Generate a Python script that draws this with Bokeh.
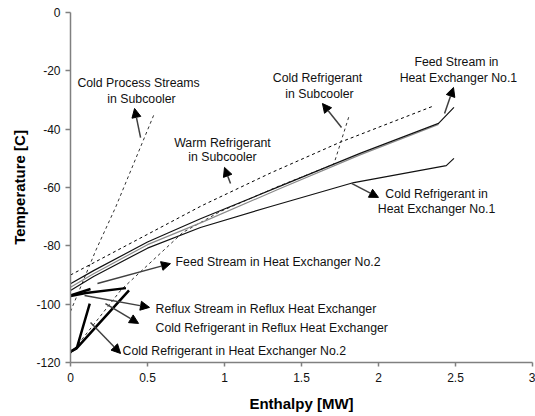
from bokeh.plotting import figure
from bokeh.models import Range1d, FixedTicker, Arrow, NormalHead, ColumnDataSource
from bokeh.core.properties import value
from bokeh.embed import file_html
from bokeh.resources import INLINE

# ---------------- data ----------------
x_ticks = [0, 0.5, 1, 1.5, 2, 2.5, 3]
x_tick_labels = ["0", "0.5", "1", "1.5", "2", "2.5", "3"]
y_ticks = [-120, -100, -80, -60, -40, -20, 0]
y_tick_labels = ["-120", "-100", "-80", "-60", "-40", "-20", "0"]

feed_hx1_h = [0, 0.15, 0.5, 0.844, 1.35, 1.88, 2.39, 2.49]
feed_hx1_t = [-93.0, -88.5, -78.7, -70.7, -59.8, -48.3, -38.0, -32.5]

hot_gray_h = [0, 0.15, 0.5, 0.86, 1.35, 1.88, 2.39]
hot_gray_t = [-94.2, -89.6, -79.6, -71.8, -60.6, -48.8, -38.4]

cold_hx1_h = [0, 0.15, 0.5, 0.844, 1.3, 1.84, 2.44, 2.49]
cold_hx1_t = [-95.3, -90.5, -80.8, -73.7, -66.5, -58.3, -52.5, -50.0]

warm_sub_h = [0, 0.85, 1.3, 1.75, 2.35]
warm_sub_t = [-90.0, -66.3, -55.0, -44.5, -32.2]

cold_sub_h = [0, 0.035, 0.33, 0.73, 0.97, 1.35, 1.71, 1.81]
cold_sub_t = [-117.0, -114.7, -95.0, -75.4, -68.3, -59.6, -52.0, -35.3]

cold_proc_h = [0, 0.164, 0.292, 0.545]
cold_proc_t = [-102.5, -81.6, -66.9, -34.6]

feed_hx2_h = [0.0, 0.13]
feed_hx2_t = [-97.0, -94.8]

reflux_h = [0.0, 0.1, 0.36]
reflux_t = [-97.2, -96.2, -94.5]

cold_reflux_h = [0.0, 0.045, 0.38]
cold_reflux_t = [-116.3, -114.8, -95.3]

cold_hx2_h = [0.0, 0.04, 0.125]
cold_hx2_t = [-116.3, -115.2, -99.8]

# annotation texts
centered_texts = ["Cold Process Streams", "in Subcooler",
                  "Warm Refrigerant", "in Subcooler",
                  "Cold Refrigerant", "in Subcooler",
                  "Feed Stream in", "Heat Exchanger No.1",
                  "Cold Refrigerant in", "Heat Exchanger No.1"]
left_texts = ["Feed Stream in Heat Exchanger No.2",
              "Reflux Stream in Reflux Heat Exchanger",
              "Cold Refrigerant in Reflux Heat Exchanger",
              "Cold Refrigerant in Heat Exchanger No.2"]

# annotation positions (data units)
centered_x = [0.442, 0.461, 0.987, 0.987, 1.604, 1.617, 2.506, 2.519, 2.377, 2.377]
centered_y = [-24.3, -29.8, -44.6, -49.7, -22.6, -28.1, -17.1, -22.3, -62.1, -67.5]
left_x = [0.682, 0.552, 0.552, 0.338]
left_y = [-85.7, -101.5, -108.3, -116.2]

arrow_x0 = [0.455, 1.039, 1.760, 2.429, 1.825, 0.175, 0.091, 0.227, 0.130]
arrow_y0 = [-42.9, -58.6, -39.4, -34.6, -58.6, -92.9, -97.0, -99.8, -106.3]
arrow_x1 = [0.416, 1.000, 1.636, 2.487, 2.000, 0.649, 0.513, 0.442, 0.325]
arrow_y1 = [-32.9, -53.1, -31.2, -25.7, -63.4, -86.1, -101.1, -106.6, -116.9]

# ---------------- figure ----------------
FONT = "Liberation Sans"

p = figure(width=535, height=416, output_backend="svg", toolbar_location=None,
           x_range=Range1d(0, 3), y_range=Range1d(-120, 0),
           min_border_left=70, min_border_right=3, min_border_top=12, min_border_bottom=54)
p.outline_line_color = None
p.grid.visible = False
p.background_fill_color = "white"
p.border_fill_color = "white"

for ax in (p.xaxis[0], p.yaxis[0]):
    ax.axis_line_color = "#808080"
    ax.axis_line_width = 1.5
    ax.major_tick_line_color = "#808080"
    ax.major_tick_line_width = 1.5
    ax.major_tick_in = 0
    ax.minor_tick_line_color = None
    ax.major_label_text_font = FONT
    ax.major_label_text_font_size = "12px"
    ax.major_label_text_color = "#111111"
    ax.axis_label_text_font = FONT
    ax.axis_label_text_font_size = "15px"
    ax.axis_label_text_font_style = "bold"
    ax.axis_label_text_color = "#000000"

p.xaxis.ticker = FixedTicker(ticks=x_ticks)
p.xaxis.major_label_overrides = dict(zip(x_ticks, x_tick_labels))
p.yaxis.ticker = FixedTicker(ticks=y_ticks)
p.yaxis.major_label_overrides = dict(zip(y_ticks, y_tick_labels))
p.xaxis.axis_label = "Enthalpy [MW]"
p.yaxis.axis_label = "Temperature [C]"
p.xaxis.major_tick_out = 4
p.xaxis.major_label_standoff = 6
p.xaxis.axis_label_standoff = 10
p.yaxis.major_tick_out = 5
p.yaxis.major_label_standoff = 5
p.yaxis.axis_label_standoff = 5

# ---------------- lines ----------------
p.line(warm_sub_h, warm_sub_t, line_color="black", line_width=1, line_dash="3 3")
p.line(cold_sub_h, cold_sub_t, line_color="#333333", line_width=1, line_dash="3 3")
p.line(cold_proc_h, cold_proc_t, line_color="#333333", line_width=1, line_dash="3 3")
p.line(hot_gray_h, hot_gray_t, line_color="#8a8a8a", line_width=1.2)
p.line(feed_hx1_h, feed_hx1_t, line_color="#111111", line_width=1.2)
p.line(cold_hx1_h, cold_hx1_t, line_color="#111111", line_width=1.2)
p.line(feed_hx2_h, feed_hx2_t, line_color="black", line_width=2.5)
p.line(reflux_h, reflux_t, line_color="black", line_width=2.5)
p.line(cold_reflux_h, cold_reflux_t, line_color="black", line_width=2.5)
p.line(cold_hx2_h, cold_hx2_t, line_color="black", line_width=2.5)

# ---------------- arrows ----------------
arrow_src = ColumnDataSource(dict(x0=arrow_x0, y0=arrow_y0, x1=arrow_x1, y1=arrow_y1))
p.add_layout(Arrow(source=arrow_src, x_start="x0", y_start="y0", x_end="x1", y_end="y1",
                   line_color="#404040", line_width=1.5,
                   end=NormalHead(size=9, fill_color="black", line_color="black", line_width=1)))

# ---------------- texts ----------------
p.text(centered_x, centered_y, text=centered_texts, text_align="center",
       text_baseline="middle", text_font=value(FONT), text_font_size="12.3px",
       text_color="#111111")
p.text(left_x, left_y, text=left_texts, text_align="left",
       text_baseline="middle", text_font=value(FONT), text_font_size="12.3px",
       text_color="#111111")

open("out.html", "w").write(file_html(p, INLINE))
